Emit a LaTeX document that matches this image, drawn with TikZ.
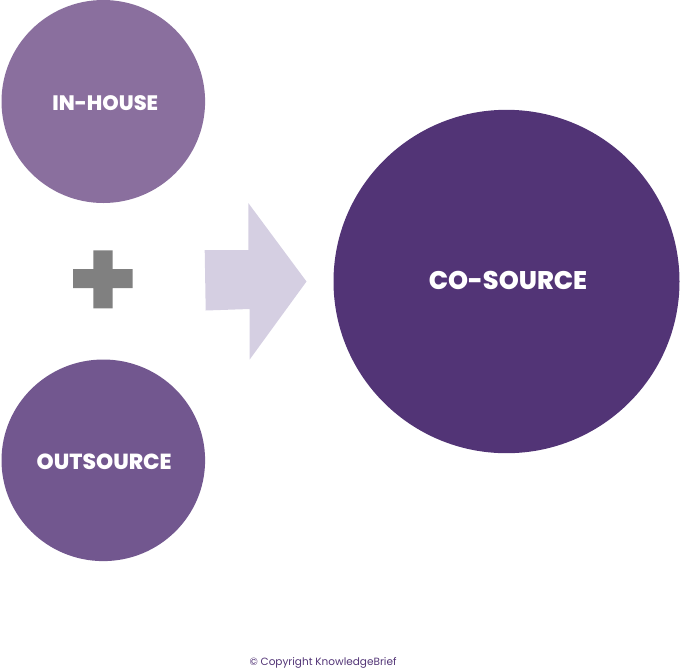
\documentclass[tikz,border=0pt]{standalone}
\usepackage{fontspec}
\setmainfont{Poppins}
\newfontfamily\heavyfont{Poppins ExtraBold}
\definecolor{lightp}{HTML}{8A6F9E}
\definecolor{midp}{HTML}{72578F}
\definecolor{darkp}{HTML}{523476}
\definecolor{arrowp}{HTML}{D5CFE2}
\definecolor{plusg}{HTML}{808080}
\tikzset{
  discl/.style={text=white,font=\heavyfont\fontsize{#1}{#1}\selectfont,inner sep=0pt},
}
\begin{document}
\begin{tikzpicture}[x=1pt,y=-1pt]
\useasboundingbox (0,0) rectangle (680,670);
\fill[lightp] (103.3,101.5) ellipse [x radius=101.8, y radius=101.5];
\fill[midp] (103.3,460.3) ellipse [x radius=101.8, y radius=100.8];
\fill[darkp] (506.5,281.5) ellipse [x radius=173, y radius=171.7];
\fill[plusg] (93.3,250.3) -- (112.7,250.3) -- (112.7,269) -- (132.7,269) -- (132.7,288) -- (112.7,288) -- (112.7,308.3) -- (93.3,308.3) -- (93.3,288) -- (73,288) -- (73,269) -- (93.3,269) -- cycle;
\fill[arrowp] (204.7,250) -- (248.3,250) -- (248.3,203) -- (306.5,281.5) -- (249.7,359.5) -- (249.7,309) -- (205.7,310.5) -- cycle;
\node[discl=20.9] (inhouse) at (105.3,103.5) {IN-HOUSE};
\node[discl=21.8] (outsource) at (104.2,461.5) {OUTSOURCE};
\node[discl=25.5] (cosource) at (508,280) {CO-SOURCE};
\node[text=darkp,font=\fontsize{10.5}{10.5}\selectfont,inner sep=0pt] (copy) at (323,662.5) {© Copyright KnowledgeBrief};
\end{tikzpicture}
\end{document}
